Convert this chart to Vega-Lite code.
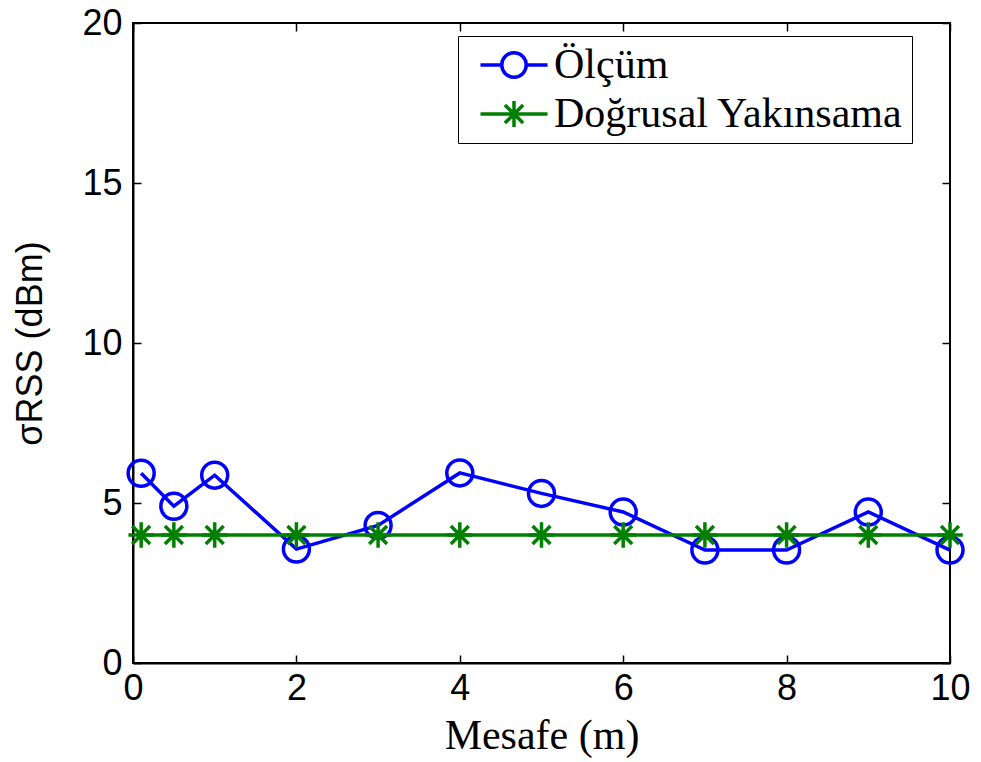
{
  "$schema": "https://vega.github.io/schema/vega-lite/v6.json",
  "width": 817,
  "height": 640,
  "autosize": {"type": "none"},
  "padding": {"left": 133, "top": 23, "right": 31, "bottom": 99},
  "background": "white",
  "config": {
    "view": {"stroke": "black", "strokeWidth": 2},
    "axis": {
      "domainColor": "black",
      "domainWidth": 2,
      "tickColor": "black",
      "tickWidth": 1.5,
      "tickSize": -8,
      "grid": false,
      "labelFlush": false,
      "labelOverlap": false,
      "labelFont": "Liberation Sans",
      "labelFontSize": 36,
      "labelColor": "black",
      "titleColor": "black",
      "titleFontWeight": "normal"
    }
  },
  "data": {
    "values": [
      {"x": 0.1, "y": 5.93, "series": "Ölçüm"},
      {"x": 0.5, "y": 4.9, "series": "Ölçüm"},
      {"x": 1, "y": 5.87, "series": "Ölçüm"},
      {"x": 2, "y": 3.56, "series": "Ölçüm"},
      {"x": 3, "y": 4.3, "series": "Ölçüm"},
      {"x": 4, "y": 5.94, "series": "Ölçüm"},
      {"x": 5, "y": 5.3, "series": "Ölçüm"},
      {"x": 6, "y": 4.72, "series": "Ölçüm"},
      {"x": 7, "y": 3.53, "series": "Ölçüm"},
      {"x": 8, "y": 3.53, "series": "Ölçüm"},
      {"x": 9, "y": 4.72, "series": "Ölçüm"},
      {"x": 10, "y": 3.53, "series": "Ölçüm"},
      {"x": 0.1, "y": 4.0, "series": "Doğrusal Yakınsama"},
      {"x": 0.5, "y": 4.0, "series": "Doğrusal Yakınsama"},
      {"x": 1, "y": 4.0, "series": "Doğrusal Yakınsama"},
      {"x": 2, "y": 4.0, "series": "Doğrusal Yakınsama"},
      {"x": 3, "y": 4.0, "series": "Doğrusal Yakınsama"},
      {"x": 4, "y": 4.0, "series": "Doğrusal Yakınsama"},
      {"x": 5, "y": 4.0, "series": "Doğrusal Yakınsama"},
      {"x": 6, "y": 4.0, "series": "Doğrusal Yakınsama"},
      {"x": 7, "y": 4.0, "series": "Doğrusal Yakınsama"},
      {"x": 8, "y": 4.0, "series": "Doğrusal Yakınsama"},
      {"x": 9, "y": 4.0, "series": "Doğrusal Yakınsama"},
      {"x": 10, "y": 4.0, "series": "Doğrusal Yakınsama"}
    ]
  },
  "resolve": {"axis": {"x": "independent", "y": "independent"}},
  "layer": [
    {
      "transform": [{"filter": "datum.series === 'Ölçüm'"}],
      "mark": {"type": "line", "color": "#0000ff", "strokeWidth": 3.5},
      "encoding": {
        "x": {"field": "x", "type": "quantitative", "scale": {"domain": [0, 10], "nice": false},
          "axis": {"orient": "bottom", "values": [0, 2, 4, 6, 8, 10], "labelPadding": 16, "title": "Mesafe (m)", "titleFont": "Liberation Serif", "titleFontSize": 42, "titlePadding": 9}},
        "y": {"field": "y", "type": "quantitative", "scale": {"domain": [0, 20], "nice": false},
          "axis": {"orient": "left", "values": [0, 5, 10, 15, 20], "labelPadding": 19, "title": "σRSS (dBm)", "titleFont": "Liberation Sans", "titleFontSize": 36, "titlePadding": 32}}
      }
    },
    {
      "transform": [{"filter": "datum.series === 'Ölçüm'"}],
      "mark": {"type": "point", "shape": "circle", "filled": false, "color": "#0000ff", "strokeWidth": 3.5, "size": 676, "opacity": 1},
      "encoding": {
        "x": {"field": "x", "type": "quantitative", "axis": null},
        "y": {"field": "y", "type": "quantitative", "axis": null}
      }
    },
    {
      "transform": [{"filter": "datum.series !== 'Ölçüm'"}],
      "mark": {"type": "line", "color": "#008000", "strokeWidth": 3.5},
      "encoding": {
        "x": {"field": "x", "type": "quantitative", "axis": null},
        "y": {"field": "y", "type": "quantitative", "axis": null}
      }
    },
    {
      "transform": [{"filter": "datum.series !== 'Ölçüm'"}],
      "mark": {"type": "point", "shape": "M-1,0H1M0,-1V1M-0.7,-0.7L0.7,0.7M-0.7,0.7L0.7,-0.7", "filled": false, "color": "#008000", "strokeWidth": 3.5, "size": 650, "opacity": 1},
      "encoding": {
        "x": {"field": "x", "type": "quantitative", "axis": null},
        "y": {"field": "y", "type": "quantitative", "axis": null}
      }
    },
    {
      "mark": {"type": "point", "filled": false, "opacity": 0, "size": 676, "strokeWidth": 3.5},
      "encoding": {
        "x": {"field": "x", "type": "quantitative",
          "axis": {"orient": "top", "values": [0, 2, 4, 6, 8, 10], "labels": false, "domain": false, "title": null}},
        "y": {"field": "y", "type": "quantitative",
          "axis": {"orient": "right", "values": [0, 5, 10, 15, 20], "labels": false, "domain": false, "title": null}},
        "color": {"field": "series", "type": "nominal",
          "scale": {"domain": ["Ölçüm", "Doğrusal Yakınsama"], "range": ["#0000ff", "#008000"]},
          "legend": {"orient": "none", "legendX": 325, "legendY": 13, "title": null, "strokeColor": "black", "fillColor": "white", "padding": 8, "labelFont": "Liberation Serif", "labelFontSize": 42, "labelColor": "black", "labelOffset": 19, "symbolOffset": 27, "rowPadding": 7, "symbolSize": 676, "symbolStrokeWidth": 3.5, "symbolOpacity": 1, "labelLimit": 1000, "labelExpr": "datum.label + '\u00a0\u00a0\u00a0'"}},
        "shape": {"field": "series", "type": "nominal",
          "scale": {"domain": ["Ölçüm", "Doğrusal Yakınsama"], "range": ["M-2.58,0H-0.94M0.94,0H2.58M0.94,0A0.94,0.94,0,1,1,-0.94,0A0.94,0.94,0,1,1,0.94,0", "M-2.58,0H2.58M0,-1V1M-0.7,-0.7L0.7,0.7M-0.7,0.7L0.7,-0.7"]},
          "legend": {"orient": "none", "legendX": 325, "legendY": 13, "title": null, "strokeColor": "black", "fillColor": "white", "padding": 8, "labelFont": "Liberation Serif", "labelFontSize": 42, "labelColor": "black", "labelOffset": 19, "symbolOffset": 27, "rowPadding": 7, "symbolSize": 676, "symbolStrokeWidth": 3.5, "symbolOpacity": 1, "labelLimit": 1000, "labelExpr": "datum.label + '\u00a0\u00a0\u00a0'"}}
      }
    }
  ]
}
